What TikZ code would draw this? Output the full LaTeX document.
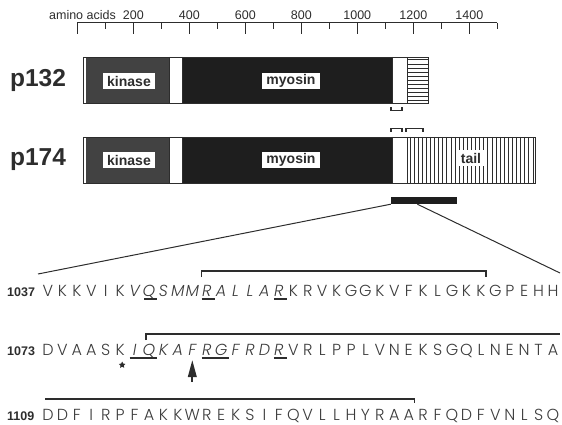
\documentclass[tikz,border=0pt]{standalone}
\usepackage{fontspec}
\setmainfont{Liberation Sans}
\IfFontExistsTF{Poppins Light}{\newfontfamily\seqfont{Poppins Light}}{\newfontfamily\seqfont{Poppins}}
\definecolor{kinasegray}{RGB}{66, 66, 66}
\definecolor{myosinblack}{RGB}{30, 30, 30}
\definecolor{inkgray}{RGB}{45, 45, 45}
\definecolor{residuegray}{RGB}{60, 60, 60}
\usetikzlibrary{shapes.geometric, arrows.meta, calc}
\tikzset{
    protlabel/.style={font=\bfseries\fontsize{24.5}{24.5}\selectfont, text=inkgray, inner sep=0},
    domainlabel/.style={fill=white, font=\bfseries\fontsize{14}{14}\selectfont, text=inkgray, inner xsep=4.5pt, inner ysep=0, minimum height=16.5pt},
    scalelabel/.style={font=\fontsize{12.5}{12.5}\selectfont, text=inkgray, inner sep=0},
    barline/.style={draw=inkgray, line width=0.8pt},
    stripe/.style={draw=inkgray, line width=1pt},
    tickline/.style={draw=inkgray, line width=0.8pt},
    residue/.style={font=\seqfont\fontsize{16}{16}\selectfont, text=residuegray, inner sep=0, anchor=base},
    seqnum/.style={font=\bfseries\fontsize{12.5}{12.5}\selectfont, text=inkgray, inner sep=0, anchor=base west},
    uline/.style={draw=inkgray, line width=1.8pt},
    bracketline/.style={draw=inkgray, line width=1.4pt},
    zoomline/.style={draw=inkgray, line width=1pt},
}

\begin{document}
\begin{tikzpicture}[x=1pt, y=-1pt]
    \useasboundingbox (0,0) rectangle (562,425);

    % Scale in amino acids
    \node[scalelabel] (aalabel) at (82.5,15) {amino acids};
    \draw[tickline] (77.3,22.7) -- (497.3,22.7);
    \foreach \i in {0,...,15} {
        \pgfmathsetmacro{\tickx}{77.3+28*\i}
        \ifodd\i
            \draw[tickline] (\tickx,22.7) -- (\tickx,29);
        \else
            \draw[tickline] (\tickx,22.7) -- (\tickx,34.3);
        \fi
    }
    \foreach \v in {200,400,...,1400}
        \node[scalelabel] (tick\v) at ({77.3+0.28*\v},15) {\v};

    % Common part of both bars: kinase, hinge, myosin, neck
    \foreach \top/\bot in {57/103, 137/183} {
        \fill[white] (83,\top) rectangle (86,\bot);
        \fill[kinasegray] (86,\top) rectangle (169,\bot);
        \fill[white] (169,\top) rectangle (182,\bot);
        \fill[myosinblack] (182,\top) rectangle (392,\bot);
        \fill[white] (392,\top) rectangle (407,\bot);
    }

    % p132 short tail (horizontal stripes)
    \foreach \y in {60,64.1,...,101.5}
        \draw[stripe] (407,\y) -- (428,\y);
    \draw[barline] (83,57) rectangle (428,103);
    \draw[barline] (169,57) -- (169,103) (182,57) -- (182,103) (392,57) -- (392,103) (407,57) -- (407,103);

    % p174 long tail (vertical stripes)
    \foreach \x in {410,414.1,...,533.5}
        \draw[stripe] (\x,137) -- (\x,183);
    \draw[barline] (83,137) rectangle (535,183);
    \draw[barline] (169,137) -- (169,183) (182,137) -- (182,183) (392,137) -- (392,183) (407,137) -- (407,183);

    % Protein names and domain labels
    \node[protlabel] (p132) at (38,80) {p132};
    \node[protlabel] (p174) at (38,160) {p174};
    \node[domainlabel] (kin132) at (129,81) {kinase};
    \node[domainlabel] (myo132) at (291,81) {myosin};
    \node[domainlabel] (kin174) at (129,160) {kinase};
    \node[domainlabel] (myo174) at (291,160) {myosin};
    \node[domainlabel] (tail174) at (471,158) {tail};

    % Small brackets at the splice region
    \draw[bracketline] (391,107) -- (391,110.3) -- (402,110.3) -- (402,107);
    \draw[bracketline] (391,131.7) -- (391,128.3) -- (402,128.3) -- (402,131.7);
    \draw[bracketline] (406,131.7) -- (406,128.3) -- (423,128.3) -- (423,131.7);

    % Region shown in the sequence
    \node[fill=myosinblack, minimum width=66pt, minimum height=7pt, inner sep=0] (region) at (424,200.5) {};
    \coordinate (seqleft) at (38,274);
    \coordinate (seqright) at (560,273);
    \draw[zoomline] (region.south west) -- (seqleft);
    \draw[zoomline] ($(region.south west)!0.4!(region.south east)$) -- (seqright);

    % Sequence rows
    \node[seqnum] (n1037) at (7,296) {1037};
    \node[seqnum] (n1073) at (7,355) {1073};
    \node[seqnum] (n1109) at (7,420.5) {1109};

    \foreach \c [count=\i from 0] in {V,K,K,V,I,K,V,Q,S,M,M,R,A,L,L,A,R,K,R,V,K,G,G,K,V,F,K,L,G,K,K,G,P,E,H,H}
        \node[residue] (r1-\i) at ({48+14.43*\i},296) {\ifnum\i>5 \ifnum\i<17 \itshape\fi\fi\c};
    \foreach \c [count=\i from 0] in {D,V,A,A,S,K,I,Q,K,A,F,R,G,F,R,D,R,V,R,L,P,P,L,V,N,E,K,S,G,Q,L,N,E,N,T,A}
        \node[residue] (r2-\i) at ({48+14.43*\i},355) {\ifnum\i>5 \ifnum\i<17 \itshape\fi\fi\c};
    \foreach \c [count=\i from 0] in {D,D,F,I,R,P,F,A,K,K,W,R,E,K,S,I,F,Q,V,L,L,H,Y,R,A,A,R,F,Q,D,F,V,N,L,S,Q}
        \node[residue] (r3-\i) at ({48+14.43*\i},420.5) {\c};

    % Underlined residues
    \draw[uline] ([xshift=-5pt,yshift=-2.8pt]r1-7.base) -- ([xshift=8pt,yshift=-2.8pt]r1-7.base);
    \draw[uline] ([xshift=-5pt,yshift=-2.8pt]r1-11.base) -- ([xshift=8pt,yshift=-2.8pt]r1-11.base);
    \draw[uline] ([xshift=-5pt,yshift=-2.8pt]r1-16.base) -- ([xshift=8pt,yshift=-2.8pt]r1-16.base);
    \draw[uline] ([xshift=-5pt,yshift=-2.8pt]r2-6.base) -- ([xshift=8pt,yshift=-2.8pt]r2-7.base);
    \draw[uline] ([xshift=-5pt,yshift=-2.8pt]r2-11.base) -- ([xshift=8pt,yshift=-2.8pt]r2-12.base);
    \draw[uline] ([xshift=-5pt,yshift=-2.8pt]r2-16.base) -- ([xshift=8pt,yshift=-2.8pt]r2-16.base);

    % Brackets over the sequence
    \draw[bracketline] ([xshift=-5pt,yshift=19pt]r1-11.base) -- ++(0,-6) -| ([xshift=5pt,yshift=19pt]r1-30.base);
    \coordinate (r2end) at (560,334);
    \draw[bracketline] ([xshift=-3pt,yshift=15pt]r2-7.base) |- (r2end);
    \coordinate (r3start) at (45,399);
    \draw[bracketline] (r3start) -| ([xshift=6pt,yshift=17.5pt]r3-25.base);

    % Marks below row 1073
    \node[star, star points=5, star point ratio=2, fill=inkgray, minimum size=7pt, inner sep=0] (star) at ([xshift=2pt,yshift=-10pt]r2-5.base) {};
    \coordinate (site) at ([yshift=-27pt]r2-10.base);
    \draw[-{Triangle[length=17pt,width=8.5pt]}, draw=inkgray, fill=inkgray, line width=2pt] (site) -- ([yshift=-5pt]r2-10.base);
\end{tikzpicture}
\end{document}
